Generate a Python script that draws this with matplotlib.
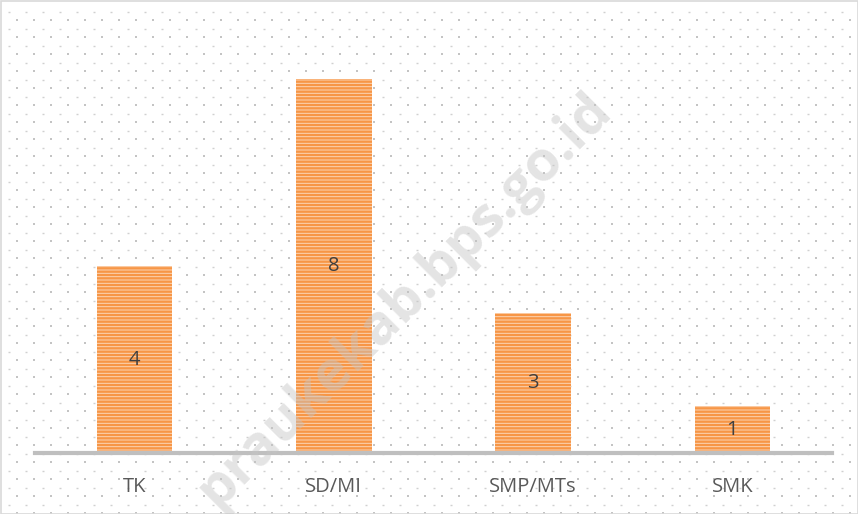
import matplotlib
matplotlib.use("Agg")
import matplotlib.pyplot as plt
import numpy as np

categories = ["TK", "SD/MI", "SMP/MTs", "SMK"]
values = [4, 8, 3, 1]

W, H = 858, 514
fig = plt.figure(figsize=(W / 100, H / 100), dpi=100)
fig.patch.set_facecolor("white")

# background with dotted pattern
bg = fig.add_axes([0, 0, 1, 1], zorder=0)
bg.set_xlim(0, W)
bg.set_ylim(H, 0)
bg.axis("off")
xs1, ys1, xs2, ys2 = [], [], [], []
row = 0
y = 11.5
while y < H:
    off = 0 if row % 2 == 0 else 8.5
    x = 8.5 + off
    while x < W:
        if row % 2 == 0:
            xs1.append(x); ys1.append(y)
        else:
            xs2.append(x); ys2.append(y)
        x += 17
    y += 8.5
    row += 1
bg.scatter(xs1, ys1, s=1.4, marker="_", color="#D0D0D0", linewidths=1.0)
bg.scatter(xs2, ys2, s=2.0, marker="s", color="#C4C4C4", linewidths=0)
bg.add_patch(plt.Rectangle((0.5, 0.5), W - 1, H - 1, fill=False, edgecolor="#D9D9D9", linewidth=1.2))

ax = fig.add_axes([35 / W, 61 / H, (832 - 35) / W, (453 - 9) / H], zorder=1)
ax.patch.set_alpha(0)
x = np.arange(len(categories))
plt.rcParams["hatch.linewidth"] = 1.7
bars = ax.bar(x, values, width=0.38, color="#FCD5B4", edgecolor="#F79646",
              hatch="-----", linewidth=0, zorder=2)
for b in bars:
    b.set_edgecolor("#F79646")
ax.set_xlim(-0.5, len(categories) - 0.5)
ax.set_ylim(0, 9.5)
for i, v in enumerate(values):
    ax.text(i, v / 2, str(v), ha="center", va="center", fontsize=14.5,
            color="#404040", family="Open Sans", zorder=3)
for s in ["top", "right", "left"]:
    ax.spines[s].set_visible(False)
ax.spines["bottom"].set_color("#BFBFBF")
ax.spines["bottom"].set_linewidth(3)
ax.set_yticks([])
ax.set_xticks(x)
ax.set_xticklabels(categories, fontsize=14.5, color="#595959", family="Open Sans")
ax.tick_params(axis="x", length=0, pad=17)

# watermark
fig.text(405 / W, 1 - 300 / H, "praukekab.bps.go.id", rotation=45, ha="center", va="center",
         fontsize=40, fontweight="bold", color="#C4C4C4", alpha=0.45,
         family="Open Sans", zorder=5)

fig.savefig("out.png", dpi=100)
